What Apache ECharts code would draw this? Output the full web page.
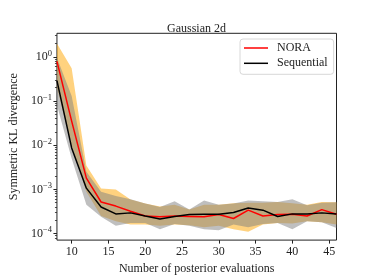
<!DOCTYPE html>
<html>
<head>
<meta charset="utf-8">
<script src="https://cdn.jsdelivr.net/npm/echarts@6/dist/echarts.min.js"></script>
<style>
html,body{margin:0;padding:0;background:#fff;}
#chart{width:374px;height:280px;}
</style>
</head>
<body>
<div id="chart"></div>
<script>
// Number of posterior evaluations
const evals = [8,10,12,14,16,18,20,22,24,26,28,30,32,34,36,38,40,42,44,46];
// NORA mean and band
const noraMean = [0.79,0.035,1.8e-3,5.2e-4,4.2e-4,3.2e-4,2.5e-4,2.4e-4,2.5e-4,2.45e-4,2.4e-4,2.7e-4,2.2e-4,3.4e-4,2.5e-4,2.7e-4,2.75e-4,2.5e-4,3.5e-4,2.75e-4];
const noraUpper = [2.0,0.55,3.5e-3,1.05e-3,1.0e-3,5.9e-4,4.8e-4,4.1e-4,4.5e-4,3.5e-4,4.5e-4,4.5e-4,4.9e-4,5.0e-4,5.0e-4,5.2e-4,4.9e-4,4.5e-4,5.2e-4,5.1e-4];
const noraLower = [0.2,0.01,8.9e-4,2.5e-4,1.9e-4,1.6e-4,1.6e-4,1.5e-4,1.6e-4,1.55e-4,1.4e-4,1.5e-4,1.25e-4,1.1e-4,1.6e-4,1.75e-4,1.7e-4,1.9e-4,1.8e-4,1.6e-4];
// Sequential mean and band
const seqMean = [0.29,8.7e-3,1.07e-3,4.0e-4,2.8e-4,2.95e-4,2.5e-4,2.15e-4,2.45e-4,2.7e-4,2.75e-4,2.75e-4,3.0e-4,3.8e-4,3.4e-4,2.45e-4,2.8e-4,2.8e-4,2.95e-4,2.8e-4];
const seqUpper = [0.95,0.13,2.5e-3,8.9e-4,7.1e-4,6.0e-4,4.8e-4,4.0e-4,5.4e-4,3.5e-4,5.6e-4,4.5e-4,4.8e-4,5.6e-4,5.4e-4,5.2e-4,6.0e-4,4.4e-4,5.0e-4,5.1e-4];
const seqLower = [0.08,5.0e-3,4.5e-4,2.4e-4,1.5e-4,1.75e-4,1.75e-4,1.25e-4,1.65e-4,1.5e-4,1.25e-4,1.2e-4,1.6e-4,1.4e-4,1.65e-4,1.75e-4,1.25e-4,1.9e-4,1.8e-4,1.35e-4];
// Tick labels
const xTicks = [10,15,20,25,30,35,40,45];
const yTickExps = [-4,-3,-2,-1,0];
const seriesNames = ['NORA','Sequential'];

const L = Math.log10;
const yMin = -4.146, yMax = 0.532;
const minorTicks = [];
for (let d = -5; d <= 0; d++) {
  for (let m = 2; m <= 9; m++) {
    const v = d + L(m);
    if (v > yMin && v < yMax) minorTicks.push(v);
  }
}
const pts = arr => evals.map((x, i) => [x, L(arr[i])]);
const bandData = (lo, up) => evals.map((x, i) => [x, L(lo[i]), L(up[i])]);

function bandSeries(lo, up, color) {
  return {
    type: 'custom', silent: true, clip: true,
    data: bandData(lo, up),
    encode: {x: 0, y: [1, 2]},
    renderItem: function (params, api) {
      if (params.dataIndexInside !== 0) return null;
      const n = params.dataInsideLength;
      const upper = [], lower = [];
      for (let k = 0; k < n; k++) {
        const x = api.value(0, k);
        upper.push(api.coord([x, api.value(2, k)]));
        lower.push(api.coord([x, api.value(1, k)]));
      }
      return {
        type: 'polygon',
        shape: {points: upper.concat(lower.reverse())},
        style: {fill: color, stroke: null}
      };
    }
  };
}

const FONT = '"Liberation Serif", "DejaVu Serif", serif';
const chart = echarts.init(document.getElementById('chart'), null, {renderer: 'canvas'});
chart.setOption({
  animation: false,
  backgroundColor: '#fff',
  title: {
    text: 'Gaussian 2d',
    left: 191.5, top: 18, textAlign: 'center',
    textStyle: {fontFamily: FONT, fontSize: 12, fontWeight: 'normal', color: '#222'}
  },
  grid: {left: 46.5, right: 37.5, top: 33.3, bottom: 35.7, show: true, borderColor: '#222', borderWidth: 1, backgroundColor: 'transparent'},
  legend: {
    orient: 'vertical', left: 240, top: 39,
    data: seriesNames.map(n => ({name: n, icon: 'rect'})),
    itemWidth: 24, itemHeight: 1.5, itemGap: 3.3,
    padding: [3, 6, 5, 4],
    backgroundColor: 'rgba(255,255,255,0.8)', borderColor: '#d8d8d8', borderWidth: 1, borderRadius: 3,
    textStyle: {fontFamily: FONT, fontSize: 12, lineHeight: 12, color: '#222', padding: [0, 0, 0, 4]}
  },
  xAxis: {
    type: 'value', min: 8, max: 46,
    name: 'Number of posterior evaluations', nameLocation: 'middle', nameGap: 17,
    nameTextStyle: {fontFamily: FONT, fontSize: 12, color: '#222'},
    axisLine: {show: false, onZero: false},
    splitLine: {show: false},
    axisTick: {show: true, length: 3.5, customValues: xTicks, lineStyle: {color: '#222'}},
    axisLabel: {customValues: xTicks, margin: 6, fontFamily: FONT, fontSize: 12, color: '#222'}
  },
  yAxis: [{
    type: 'value', min: yMin, max: yMax,
    name: 'Symmetric KL divergence', nameLocation: 'middle', nameGap: 30,
    nameTextStyle: {fontFamily: FONT, fontSize: 12, color: '#222'},
    axisLine: {show: false, onZero: false},
    splitLine: {show: false},
    axisTick: {show: true, length: 3.5, customValues: yTickExps, lineStyle: {color: '#222'}},
    axisLabel: {
      customValues: yTickExps, margin: 5,
      formatter: v => '{b|10}{s|' + (v === 0 ? '0' : '\u2212' + (-v)) + '}',
      rich: {
        b: {fontFamily: FONT, fontSize: 12, color: '#222'},
        s: {fontFamily: FONT, fontSize: 8.5, color: '#222', padding: [0, 0, 7, 0]}
      }
    }
  }, {
    type: 'value', min: yMin, max: yMax, position: 'left',
    axisLine: {show: false, onZero: false}, splitLine: {show: false}, axisLabel: {show: false},
    axisTick: {show: true, length: 2, customValues: minorTicks, lineStyle: {color: '#222', width: 0.8}}
  }],
  series: [
    bandSeries(noraLower, noraUpper, 'rgba(255,165,0,0.5)'),
    bandSeries(seqLower, seqUpper, 'rgba(128,128,128,0.5)'),
    {name: seriesNames[0], type: 'line', data: pts(noraMean), symbol: 'none', lineStyle: {color: '#ff0000', width: 1.5}, itemStyle: {color: '#ff0000'}},
    {name: seriesNames[1], type: 'line', data: pts(seqMean), symbol: 'none', lineStyle: {color: '#000', width: 1.5}, itemStyle: {color: '#000'}}
  ]
});
</script>
</body>
</html>
